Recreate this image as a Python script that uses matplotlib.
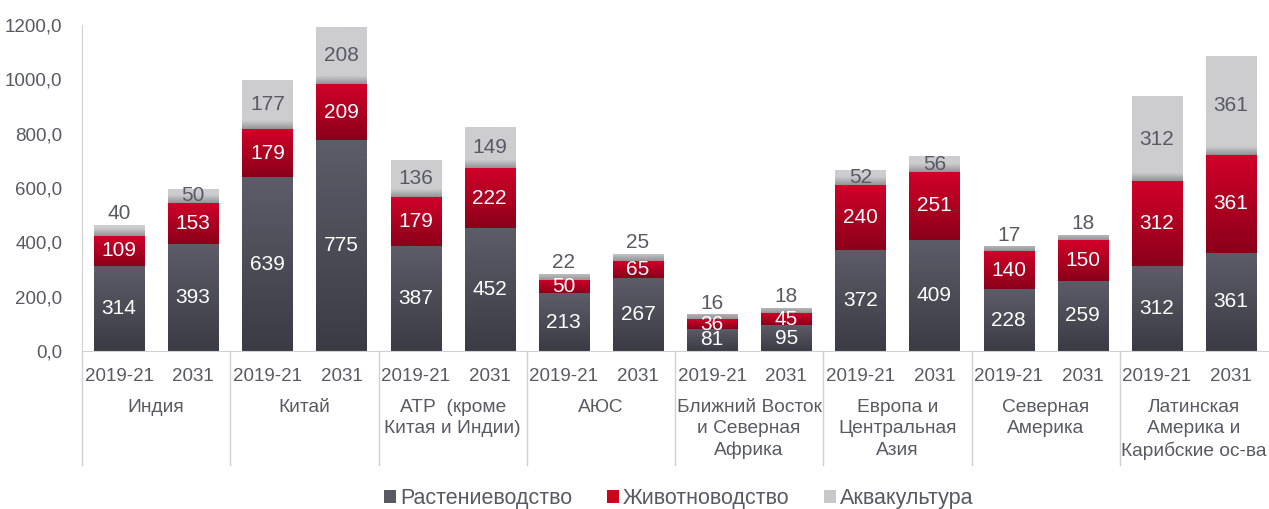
import numpy as np
import matplotlib
matplotlib.use("Agg")
import matplotlib.pyplot as plt
import matplotlib.transforms as mtransforms
from matplotlib.patches import Patch
from matplotlib.colors import to_rgb

plt.rcParams['font.family'] = ['Liberation Sans', 'DejaVu Sans']

# data
regions = ["Индия", "Китай", "АТР  (кроме\nКитая и Индии)", "АЮС",
           "Ближний Восток\nи Северная\nАфрика", "Европа и\nЦентральная\nАзия",
           "Северная\nАмерика", "Латинская\nАмерика и\nКарибские ос-ва"]
periods = ["2019-21", "2031"]
crops = [314, 393, 639, 775, 387, 452, 213, 267, 81, 95, 372, 409, 228, 259, 312, 361]
livestock = [109, 153, 179, 209, 179, 222, 50, 65, 36, 45, 240, 251, 140, 150, 312, 361]
aqua = [40, 50, 177, 208, 136, 149, 22, 25, 16, 18, 52, 56, 17, 18, 312, 361]
series_names = ["Растениеводство", "Животноводство", "Аквакультура"]

txt = "#595963"
x = np.arange(len(crops))
w = 0.675

fig = plt.figure(figsize=(12.69, 5.09), dpi=100)
ax = fig.add_axes([82/1269, 1-351/509, 1186/1269, 326/509])
ax.set_xlim(-0.5, 15.5)
ax.set_ylim(0, 1200)


def grad_fill(x0, bottom, height, top_col, bot_col, ramp=None):
    n = 100
    t = np.linspace(0, 1, n)  # 0 = bottom, 1 = top
    if ramp is not None:
        # ramp measured in data units from the segment bottom
        t = np.clip(t * height / ramp, 0, 1)
    c0 = np.array(to_rgb(bot_col))
    c1 = np.array(to_rgb(top_col))
    img = (c0[None, :] * (1 - t[:, None]) + c1[None, :] * t[:, None])[::-1]
    img = img[:, None, :].repeat(2, axis=1)
    ax.imshow(img, extent=[x0 - w/2, x0 + w/2, bottom, bottom + height],
              aspect='auto', interpolation='bilinear', zorder=2)


b1 = np.array(crops, dtype=float)
b2 = b1 + np.array(livestock)
ax.bar(x, crops, w, color='none', zorder=1)
ax.bar(x, livestock, w, bottom=b1, color='none', zorder=1)
ax.bar(x, aqua, w, bottom=b2, color='none', zorder=1)

fs = 15
for i in x:
    grad_fill(i, 0, crops[i], "#5d5d69", "#3b3b45")
    grad_fill(i, b1[i], livestock[i], "#d2002a", "#8a0019")
    grad_fill(i, b2[i], aqua[i], "#cdcdd0", "#949498", ramp=30)

    ax.text(i, crops[i] / 2, str(crops[i]), ha='center', va='center',
            color='white', fontsize=fs, zorder=3)
    ax.text(i, b1[i] + livestock[i] / 2, str(livestock[i]), ha='center', va='center',
            color='white', fontsize=fs, zorder=3)
    if aqua[i] < 45:
        ax.text(i, b2[i] + aqua[i] + 7, str(aqua[i]), ha='center', va='bottom',
                color=txt, fontsize=fs, zorder=3)
    else:
        ax.text(i, b2[i] + aqua[i] / 2, str(aqua[i]), ha='center', va='center',
                color=txt, fontsize=fs, zorder=3)

# axes
for s in ['top', 'right']:
    ax.spines[s].set_visible(False)
ax.spines['left'].set_color('#d0d0d4')
ax.spines['bottom'].set_color('#d0d0d4')
ax.set_yticks(np.arange(0, 1201, 200))
ax.set_yticklabels([f"{v:.1f}".replace('.', ',') for v in np.arange(0, 1201, 200)])
ax.tick_params(axis='y', length=0, labelsize=13.5, labelcolor=txt, pad=14)
ax.set_xticks(x)
ax.set_xticklabels(periods * len(regions))
ax.tick_params(axis='x', length=0, labelsize=13.5, labelcolor=txt, pad=12)

trans = mtransforms.blended_transform_factory(ax.transData, ax.transAxes)
for g, name in enumerate(regions):
    ax.text(2*g + 0.5, -0.148, name, transform=trans, ha='center', va='top',
            fontsize=13.8, color=txt, linespacing=1.32)
    ax.plot([2*g - 0.5, 2*g - 0.5], [0, -0.35], transform=trans, color='#d0d0d4',
            lw=1, clip_on=False)

handles = [Patch(facecolor="#595963"), Patch(facecolor="#d0021b"), Patch(facecolor="#c8c8ca")]
fig.legend(handles, series_names, loc='center', bbox_to_anchor=(0.535, 0.02), ncol=3,
           frameon=False, fontsize=15.5, handlelength=0.55, handleheight=0.55,
           handletextpad=0.2, columnspacing=1.6, labelcolor=txt)

fig.savefig("out.png", dpi=100)
